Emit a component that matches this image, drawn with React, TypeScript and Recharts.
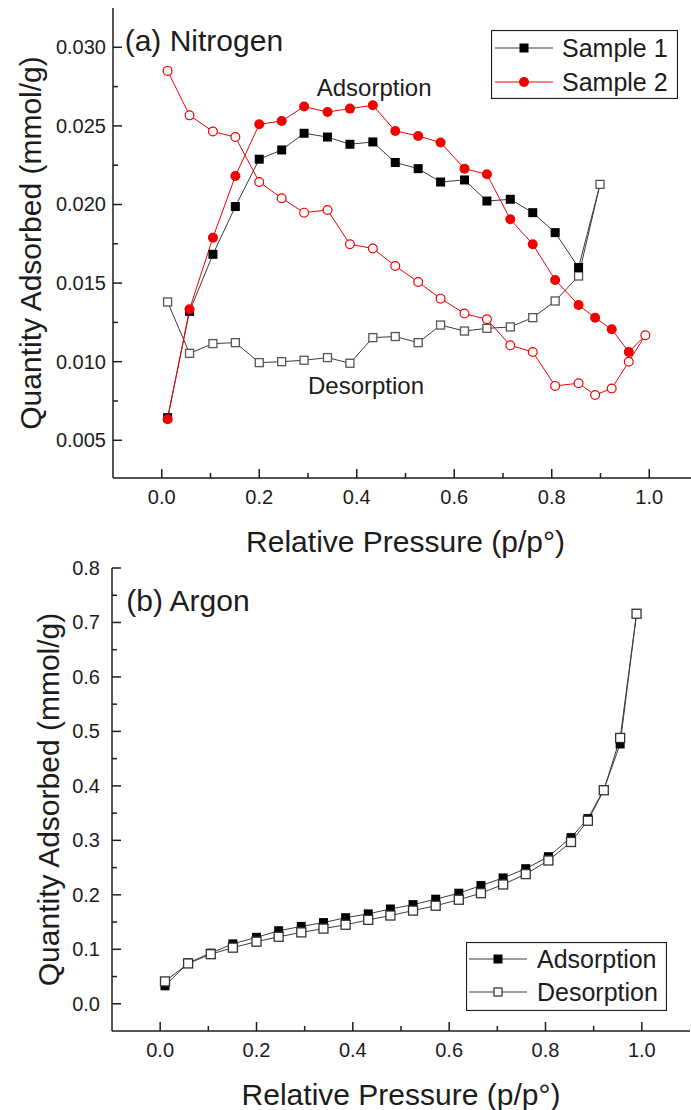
import React from 'react';
import { ComposedChart, Line, Scatter, XAxis, YAxis, ReferenceDot, Legend } from 'recharts';

const FONT = '"Liberation Sans", Arial, Helvetica, sans-serif';
const INK = '#1c1c1c';
const RED = '#f20000';
const GREY = '#3c3c3c';

// ---- (a) Nitrogen ----
const s1AdsP = [0.012, 0.057, 0.105, 0.151, 0.2, 0.246, 0.292, 0.34, 0.386, 0.433, 0.479, 0.526, 0.572, 0.621, 0.667, 0.715, 0.761, 0.807, 0.855];
const s1AdsQ = [0.00644, 0.0132, 0.01683, 0.01987, 0.02288, 0.02347, 0.02453, 0.02429, 0.02383, 0.02398, 0.02267, 0.02228, 0.02143, 0.02156, 0.02022, 0.02033, 0.01948, 0.01821, 0.01599];
const s1DesP = [0.899, 0.855, 0.807, 0.761, 0.715, 0.667, 0.621, 0.572, 0.526, 0.479, 0.433, 0.386, 0.34, 0.292, 0.246, 0.2, 0.151, 0.105, 0.057, 0.012];
const s1DesQ = [0.02128, 0.01545, 0.01386, 0.0128, 0.01221, 0.01212, 0.01195, 0.01233, 0.01121, 0.0116, 0.01153, 0.0099, 0.01026, 0.01009, 0.01, 0.00994, 0.01121, 0.01115, 0.01053, 0.0138];

const s2AdsP = [0.012, 0.057, 0.105, 0.151, 0.2, 0.246, 0.292, 0.34, 0.386, 0.433, 0.479, 0.526, 0.572, 0.621, 0.667, 0.715, 0.761, 0.807, 0.855, 0.889, 0.923, 0.958];
const s2AdsQ = [0.00634, 0.01333, 0.01789, 0.02181, 0.0251, 0.02531, 0.02623, 0.02588, 0.0261, 0.02631, 0.02468, 0.02436, 0.02394, 0.02228, 0.02192, 0.01906, 0.01747, 0.0152, 0.01361, 0.0128, 0.01206, 0.01062];
const s2DesP = [0.992, 0.958, 0.923, 0.889, 0.855, 0.807, 0.761, 0.715, 0.667, 0.621, 0.572, 0.526, 0.479, 0.433, 0.386, 0.34, 0.292, 0.246, 0.2, 0.151, 0.105, 0.057, 0.012];
const s2DesQ = [0.01168, 0.01, 0.00829, 0.00788, 0.00863, 0.00846, 0.01062, 0.01104, 0.0127, 0.01306, 0.01401, 0.01507, 0.01609, 0.0172, 0.01747, 0.01965, 0.01948, 0.0204, 0.02143, 0.02429, 0.02464, 0.02567, 0.0285];

const n2YMajor = [0.005, 0.01, 0.015, 0.02, 0.025, 0.03];
const n2YMinor = [0.0075, 0.0125, 0.0175, 0.0225, 0.0275];

// ---- (b) Argon ----
const arAdsP = [0.01, 0.058, 0.105, 0.151, 0.2, 0.246, 0.293, 0.339, 0.385, 0.432, 0.478, 0.525, 0.572, 0.62, 0.666, 0.712, 0.759, 0.806, 0.853, 0.888, 0.921, 0.955];
const arAdsQ = [0.033, 0.075, 0.093, 0.11, 0.122, 0.134, 0.142, 0.149, 0.158, 0.165, 0.174, 0.182, 0.192, 0.203, 0.217, 0.231, 0.248, 0.27, 0.305, 0.34, 0.393, 0.477];
const arDesP = [0.989, 0.955, 0.921, 0.888, 0.853, 0.806, 0.759, 0.712, 0.666, 0.62, 0.572, 0.525, 0.478, 0.432, 0.385, 0.339, 0.293, 0.246, 0.2, 0.151, 0.105, 0.058, 0.01];
const arDesQ = [0.716, 0.488, 0.392, 0.336, 0.297, 0.263, 0.238, 0.219, 0.203, 0.191, 0.18, 0.171, 0.162, 0.154, 0.145, 0.138, 0.131, 0.123, 0.114, 0.103, 0.091, 0.074, 0.041];

const arYMajor = [0, 0.1, 0.2, 0.3, 0.4, 0.5, 0.6, 0.7, 0.8];
const arYMinor = [0.05, 0.15, 0.25, 0.35, 0.45, 0.55, 0.65, 0.75];

const xMajor = [0, 0.2, 0.4, 0.6, 0.8, 1.0];
const xMinor = [0.1, 0.3, 0.5, 0.7, 0.9];

const zip = (p: number[], q: number[]) => p.map((v, i) => ({ p: v, q: q[i] }));

const s1Ads = zip(s1AdsP, s1AdsQ);
const s1Des = zip(s1DesP, s1DesQ);
const s2Ads = zip(s2AdsP, s2AdsQ);
const s2Des = zip(s2DesP, s2DesQ);
const arAds = zip(arAdsP, arAdsQ);
const arDes = zip(arDesP, arDesQ);

// markers
const filledSquare = (color: string, s = 9) => (props: any) => (
  <rect x={props.cx - s / 2} y={props.cy - s / 2} width={s} height={s} fill={color} />
);
const openSquare = (color: string, s = 8) => (props: any) => (
  <rect x={props.cx - s / 2} y={props.cy - s / 2} width={s} height={s} fill="#fff" stroke={color} strokeWidth={1.3} />
);
const filledCircle = (props: any) => <circle cx={props.cx} cy={props.cy} r={5} fill={RED} />;
const openCircle = (props: any) => (
  <circle cx={props.cx} cy={props.cy} r={4.4} fill="#fff" stroke={RED} strokeWidth={1.2} />
);

type Side = 'bottom' | 'top' | 'left' | 'right';

function tickRenderer(side: Side, majors: number[], fmt?: (v: number) => string, gap = 10) {
  return (props: any) => {
    const { x, y, payload } = props;
    const v = payload.value;
    const major = majors.includes(v);
    const len = major ? 9 : 5;
    let x2 = x;
    let y2 = y;
    if (side === 'bottom') y2 = y - len;
    if (side === 'top') y2 = y + len;
    if (side === 'left') x2 = x + len;
    if (side === 'right') x2 = x - len;
    return (
      <g>
        <line x1={x} y1={y} x2={x2} y2={y2} stroke={INK} strokeWidth={1.5} />
        {major && fmt && side === 'bottom' && (
          <text x={x} y={y + 26} textAnchor="middle" fontSize={20} fill={INK} fontFamily={FONT}>
            {fmt(v)}
          </text>
        )}
        {major && fmt && side === 'left' && (
          <text x={x - gap} y={y + 7} textAnchor="end" fontSize={20} fill={INK} fontFamily={FONT}>
            {fmt(v)}
          </text>
        )}
      </g>
    );
  };
}

const xTitle = (text: string) => (props: any) => {
  const vb = props.viewBox;
  return (
    <text x={vb.x + vb.width / 2} y={vb.y + 74} textAnchor="middle" fontSize={30} fill={INK} fontFamily={FONT}>
      {text}
    </text>
  );
};

const yTitle = (text: string, cx: number) => (props: any) => {
  const vb = props.viewBox;
  const cy = vb.y + vb.height / 2;
  return (
    <text
      x={cx}
      y={cy}
      transform={`rotate(-90 ${cx} ${cy})`}
      textAnchor="middle"
      dy={11}
      fontSize={30}
      fill={INK}
      fontFamily={FONT}
    >
      {text}
    </text>
  );
};

interface LegendRow {
  name: string;
  color: string;
  marker: 'fsq' | 'osq' | 'fci';
}

const n2Legend: LegendRow[] = [
  { name: 'Sample 1', color: GREY, marker: 'fsq' },
  { name: 'Sample 2', color: RED, marker: 'fci' },
];
const arLegend: LegendRow[] = [
  { name: 'Adsorption', color: GREY, marker: 'fsq' },
  { name: 'Desorption', color: GREY, marker: 'osq' },
];

const legendBox = (rows: LegendRow[], w: number, h: number, rowY: number[], lineX: [number, number], textX: number) => () => (
  <svg width={w} height={h} style={{ display: 'block' }}>
    <rect x={0.5} y={0.5} width={w - 1} height={h - 1} fill="#fff" stroke={INK} strokeWidth={1.2} />
    {rows.map((r, i) => {
      const cy = rowY[i];
      const mx = (lineX[0] + lineX[1]) / 2;
      return (
        <g key={r.name}>
          <line x1={lineX[0]} y1={cy} x2={lineX[1]} y2={cy} stroke={r.color} strokeWidth={1} />
          {r.marker === 'fsq' && <rect x={mx - 4.5} y={cy - 4.5} width={9} height={9} fill="#000" />}
          {r.marker === 'osq' && <rect x={mx - 4} y={cy - 4} width={8} height={8} fill="#fff" stroke={GREY} strokeWidth={1.3} />}
          {r.marker === 'fci' && <circle cx={mx} cy={cy} r={5} fill={RED} />}
          <text x={textX} y={cy + 9} fontSize={25} fill={INK} fontFamily={FONT}>
            {r.name}
          </text>
        </g>
      );
    })}
  </svg>
);

const annot = (value: string, size: number) => ({
  value,
  position: 'right' as const,
  offset: 0,
  fontSize: size,
  fill: INK,
  fontFamily: FONT,
});

function NitrogenChart() {
  const xTicks = [...xMajor, ...xMinor];
  const yTicks = [...n2YMajor, ...n2YMinor];
  const yDomain: [number, number] = [0.0026, 0.0325];
  return (
    <ComposedChart width={708} height={558} margin={{ top: 8, right: 10, bottom: 0, left: 0 }}>
      <XAxis
        dataKey="p"
        type="number"
        domain={[-0.1, 1.1]}
        ticks={xTicks}
        interval={0}
        tickSize={0}
        tickMargin={0}
        height={80}
        axisLine={{ stroke: INK, strokeWidth: 1.5 }}
        tick={tickRenderer('bottom', xMajor, (v) => v.toFixed(1))}
        label={{ content: xTitle('Relative Pressure (p/p°)') }}
      />
      <XAxis
        xAxisId="top"
        orientation="top"
        type="number"
        domain={[-0.1, 1.1]}
        ticks={xTicks}
        interval={0}
        tickSize={0}
        tickMargin={0}
        height={0}
        axisLine={{ stroke: INK, strokeWidth: 1.5 }}
        tick={tickRenderer('top', xMajor)}
      />
      <YAxis
        dataKey="q"
        type="number"
        domain={yDomain}
        ticks={yTicks}
        interval={0}
        tickSize={0}
        tickMargin={0}
        width={113}
        axisLine={{ stroke: INK, strokeWidth: 1.5 }}
        tick={tickRenderer('left', n2YMajor, (v) => v.toFixed(3), 7)}
        label={{ content: yTitle('Quantity Adsorbed (mmol/g)', 30) }}
      />
      <YAxis
        yAxisId="right"
        orientation="right"
        type="number"
        domain={yDomain}
        ticks={yTicks}
        interval={0}
        tickSize={0}
        tickMargin={0}
        width={0}
        axisLine={{ stroke: INK, strokeWidth: 1.5 }}
        tick={tickRenderer('right', n2YMajor)}
      />
      <Line data={[...s1Ads, ...s1Des]} dataKey="q" stroke={GREY} strokeWidth={1} dot={false} isAnimationActive={false} legendType="none" />
      <Line data={[...s2Ads, ...s2Des]} dataKey="q" stroke={RED} strokeWidth={1} dot={false} isAnimationActive={false} legendType="none" />
      <Scatter data={s1Des} dataKey="q" shape={openSquare('#555')} isAnimationActive={false} legendType="none" />
      <Scatter data={s2Des} dataKey="q" shape={openCircle} isAnimationActive={false} legendType="none" />
      <Scatter data={s1Ads} dataKey="q" shape={filledSquare('#000')} isAnimationActive={false} legendType="none" />
      <Scatter data={s2Ads} dataKey="q" shape={filledCircle} isAnimationActive={false} legendType="none" />
      <ReferenceDot x={-0.076} y={0.03045} r={0} fill="none" stroke="none" label={annot('(a) Nitrogen', 30)} />
      <ReferenceDot x={0.318} y={0.02746} r={0} fill="none" stroke="none" label={annot('Adsorption', 24)} />
      <ReferenceDot x={0.3} y={0.0085} r={0} fill="none" stroke="none" label={annot('Desorption', 24)} />
      <Legend
        layout="vertical"
        align="center"
        verticalAlign="middle"
        wrapperStyle={{ left: 491, top: 30, width: 187, height: 69 }}
        content={legendBox(n2Legend, 187, 69, [18, 52], [4, 62], 71)}
      />
    </ComposedChart>
  );
}

function ArgonChart() {
  const xTicks = [...xMajor, ...xMinor];
  const yTicks = [...arYMajor, ...arYMinor];
  const yDomain: [number, number] = [-0.05, 0.8];
  return (
    <ComposedChart width={700} height={571} margin={{ top: 28, right: 10, bottom: 0, left: 0 }}>
      <XAxis
        dataKey="p"
        type="number"
        domain={[-0.1, 1.1]}
        ticks={xTicks}
        interval={0}
        tickSize={0}
        tickMargin={0}
        height={80}
        axisLine={{ stroke: INK, strokeWidth: 1.5 }}
        tick={tickRenderer('bottom', xMajor, (v) => v.toFixed(1))}
        label={{ content: xTitle('Relative Pressure (p/p°)') }}
      />
      <XAxis
        xAxisId="top"
        orientation="top"
        type="number"
        domain={[-0.1, 1.1]}
        ticks={xTicks}
        interval={0}
        tickSize={0}
        tickMargin={0}
        height={0}
        axisLine={{ stroke: INK, strokeWidth: 1.5 }}
        tick={tickRenderer('top', xMajor)}
      />
      <YAxis
        dataKey="q"
        type="number"
        domain={yDomain}
        ticks={yTicks}
        interval={0}
        tickSize={0}
        tickMargin={0}
        width={112}
        axisLine={{ stroke: INK, strokeWidth: 1.5 }}
        tick={tickRenderer('left', arYMajor, (v) => v.toFixed(1), 12)}
        label={{ content: yTitle('Quantity Adsorbed (mmol/g)', 48) }}
      />
      <YAxis
        yAxisId="right"
        orientation="right"
        type="number"
        domain={yDomain}
        ticks={yTicks}
        interval={0}
        tickSize={0}
        tickMargin={0}
        width={0}
        axisLine={{ stroke: INK, strokeWidth: 1.5 }}
        tick={tickRenderer('right', arYMajor)}
      />
      <Line data={[...arAds, arDes[0]]} dataKey="q" stroke={GREY} strokeWidth={1} dot={false} isAnimationActive={false} legendType="none" />
      <Line data={arDes} dataKey="q" stroke={GREY} strokeWidth={1} dot={false} isAnimationActive={false} legendType="none" />
      <Scatter data={arAds} dataKey="q" shape={filledSquare('#000')} isAnimationActive={false} legendType="none" />
      <Scatter data={arDes} dataKey="q" shape={openSquare('#333', 9)} isAnimationActive={false} legendType="none" />
      <ReferenceDot x={-0.0705} y={0.741} r={0} fill="none" stroke="none" label={annot('(b) Argon', 30)} />
      <Legend
        layout="vertical"
        align="center"
        verticalAlign="middle"
        wrapperStyle={{ left: 466, top: 402, width: 201, height: 69 }}
        content={legendBox(arLegend, 201, 69, [17, 50], [3, 61], 71)}
      />
    </ComposedChart>
  );
}

export default function App() {
  return (
    <div
      style={{
        position: 'absolute',
        left: 0,
        top: 0,
        width: 691,
        height: 1110,
        overflow: 'hidden',
        background: '#fff',
        fontFamily: FONT,
      }}
    >
      <div style={{ position: 'absolute', left: 0, top: 0 }}>
        <NitrogenChart />
      </div>
      <div style={{ position: 'absolute', left: 0, top: 540 }}>
        <ArgonChart />
      </div>
    </div>
  );
}
